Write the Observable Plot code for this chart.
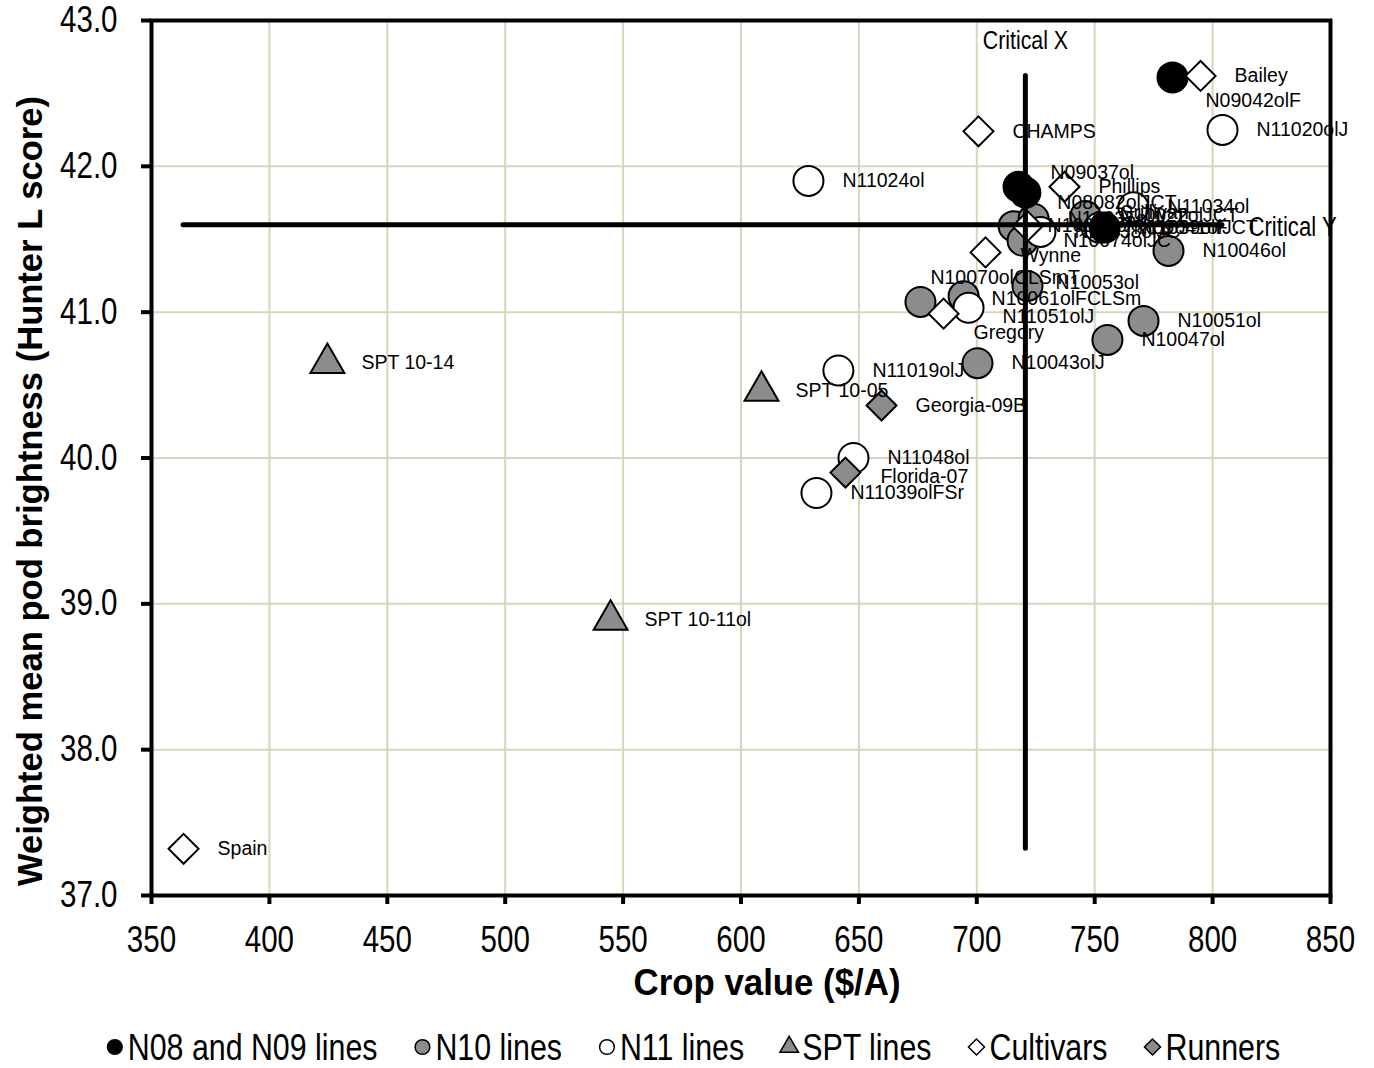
<!DOCTYPE html>
<html>
<head>
<meta charset="utf-8">
<script src="https://cdn.jsdelivr.net/npm/d3@7"></script>
<script src="https://cdn.jsdelivr.net/npm/@observablehq/plot@0.6"></script>
<style>
  html, body { margin: 0; padding: 0; background: #fff; }
  body { width: 1374px; font-family: 'Liberation Sans', Arial, sans-serif; }
  #chart svg, #legend svg { display: block; }
</style>
</head>
<body>
<div id="chart"></div>
<div id="legend"></div>
<script>
// ---- data ----
const groupNames = ["N08 and N09 lines", "N10 lines", "N11 lines", "SPT lines", "Cultivars", "Runners"];

const names = [
  "N09042olF", "N09037ol", "N08082olJCT", "N09041olJCT",
  "N10046ol", "N10051ol", "N10047ol", "N10043olJ", "N10053ol", "N10070olCLSmT", "N10061olFCLSm", "N10038ol", "N10035olJCT", "N10074olJC", "N10022olJCT",
  "N11020olJ", "N11024ol", "N11019olJ", "N11048ol", "N11039olFSr", "N11051olJ", "N11034ol", "N11038olJC", "N11039olF",
  "SPT 10-14", "SPT 10-05", "SPT 10-11ol",
  "Bailey", "CHAMPS", "Phillips", "Wynne", "Gregory", "Spain", "Sullivan",
  "Georgia-09B", "Florida-07"
];
const groups = [
  0, 0, 0, 0,
  1, 1, 1, 1, 1, 1, 1, 1, 1, 1, 1,
  2, 2, 2, 2, 2, 2, 2, 2, 2,
  3, 3, 3,
  4, 4, 4, 4, 4, 4, 4,
  5, 5
];
const cropValue = [
  783.0, 717.7, 720.6, 754.2,
  781.3, 770.7, 755.4, 700.3, 721.5, 676.1, 694.4, 715.6, 724.1, 719.4, 746.1,
  804.2, 628.6, 641.3, 647.7, 632.0, 696.5, 766.4, 727.0, 752.0,
  424.6, 608.7, 544.7,
  794.9, 700.7, 737.2, 703.7, 685.9, 363.6, 721.5,
  659.6, 644.3
];
const brightness = [
  42.61, 41.86, 41.82, 41.58,
  41.42, 40.94, 40.81, 40.65, 41.18, 41.07, 41.11, 41.59, 41.64, 41.49, 41.66,
  42.25, 41.90, 40.60, 40.00, 39.76, 41.03, 41.72, 41.55, 41.58,
  40.65, 40.46, 38.89,
  42.62, 42.24, 41.86, 41.41, 40.99, 37.32, 41.59,
  40.36, 39.90
];
const xTicks = [350, 400, 450, 500, 550, 600, 650, 700, 750, 800, 850];
const yTicks = [37, 38, 39, 40, 41, 42, 43];
const criticalX = 720.6;
const criticalY = 41.6;
const xTitle = "Crop value ($/A)";
const yTitle = "Weighted mean pod brightness (Hunter L score)";

// ---- styling ----
const FONT = "'Liberation Sans', Arial, sans-serif";
const NARROW = 0.82; // Arial Narrow look
const gridColor = "#d9d4bb";
const styleOf = [
  {symbol: "circle", fill: "#000000", r: 15},
  {symbol: "circle", fill: "#8c8c8c", r: 15},
  {symbol: "circle", fill: "#ffffff", r: 15},
  {symbol: "triangle", fill: "#8c8c8c", r: 12.6},
  {symbol: "diamond2", fill: "#ffffff", r: 13.5},
  {symbol: "diamond2", fill: "#8c8c8c", r: 13.5}
];
// label nudges (pixels) where the labels were moved off their default spot
const nudge = {
  "N09042olF": [33, 23], "N09037ol": [32, -14], "N08082olJCT": [32, 10],
  "N10070olCLSmT": [10, -24], "N10053ol": [28, -3], "N10061olFCLSm": [28, 3],
  "N11051olJ": [34, 9], "Gregory": [30, 19], "Wynne": [35, 3], "Florida-07": [35, 4],
  "Sullivan": [93, -13], "N10074olJC": [41, 0]
};

const rows = names.map((n, i) => ({name: n, group: groups[i], x: cropValue[i], y: brightness[i]}));
const drawOrder = [1, 2, 0, 3, 4, 5];

const xExt = d3.extent(cropValue);
const yExt = d3.extent(brightness);

const dotMarks = drawOrder.map(g => Plot.dot(rows.filter(d => d.group === g), {
  x: "x", y: "y", symbol: () => styleOf[g].symbol, r: styleOf[g].r,
  fill: styleOf[g].fill, stroke: "#000", strokeWidth: 2
}));
const labelMarks = rows.map(d => {
  const [dx, dy] = nudge[d.name] || [34, 0];
  return Plot.text([d], {x: "x", y: "y", text: "name", dx, dy, textAnchor: "start", fontSize: 19.5, fill: "#000"});
});

const chart = Plot.plot({
  width: 1374,
  height: 1018,
  marginTop: 20,
  marginBottom: 123,
  marginLeft: 151,
  marginRight: 44,
  style: {fontFamily: FONT, color: "#000", background: "#fff"},
  x: {domain: [350, 850], nice: false},
  y: {domain: [37, 43], nice: false},
  symbol: {type: "identity"},
  marks: [
    Plot.gridX(xTicks, {stroke: gridColor, strokeOpacity: 1, strokeWidth: 2}),
    Plot.gridY(yTicks, {stroke: gridColor, strokeOpacity: 1, strokeWidth: 2}),
    Plot.axisX(xTicks, {tickSize: 9, strokeWidth: 4, tickPadding: 22, fontSize: 36, label: null, tickFormat: d => String(d)}),
    Plot.axisY(yTicks, {tickSize: 10, strokeWidth: 4, tickPadding: 24, fontSize: 36, label: null, tickFormat: d3.format(".1f")}),
    ...dotMarks,
    ...labelMarks,
    Plot.ruleX([criticalX], {y1: yExt[0], y2: yExt[1], stroke: "#000", strokeWidth: 5, strokeLinecap: "round"}),
    Plot.ruleY([criticalY], {x1: xExt[0], x2: xExt[1], stroke: "#000", strokeWidth: 5, strokeLinecap: "round"}),
    Plot.text([criticalX], {x: d => d, frameAnchor: "top", dy: 10, text: () => "Critical X", fontSize: 26, fill: "#000"}),
    Plot.text([criticalY], {x: () => xExt[1], y: d => d, dx: 26, dy: 3, text: () => "Critical Y", textAnchor: "start", fontSize: 27, fill: "#000"}),
    Plot.text([xTitle], {frameAnchor: "bottom", dy: 99, dx: 26, text: d => d, textAnchor: "middle", fontSize: 37, fontWeight: "bold", fill: "#000"}),
    Plot.text([yTitle], {frameAnchor: "left", dx: -121, dy: 33, rotate: -90, text: d => d, textAnchor: "middle", lineAnchor: "middle", fontSize: 35, fontWeight: "bold", fill: "#000"}),
    Plot.frame({stroke: "#000", strokeWidth: 4})
  ]
});
document.getElementById("chart").appendChild(chart);

// narrow-font look for axis texts and titles
const tickStrings = new Set([...xTicks.map(String), ...yTicks.map(d3.format(".1f"))]);
const fixedLen = {[xTitle]: 267, [yTitle]: 790};
function squeeze(el, factor) {
  const w = el.getComputedTextLength();
  el.setAttribute("textLength", w * factor);
  el.setAttribute("lengthAdjust", "spacingAndGlyphs");
}
chart.querySelectorAll("text").forEach(el => {
  const t = el.textContent;
  if (fixedLen[t]) { el.setAttribute("textLength", fixedLen[t]); el.setAttribute("lengthAdjust", "spacingAndGlyphs"); }
  else if (tickStrings.has(t) || t === "Critical X" || t === "Critical Y") squeeze(el, NARROW);
});

// ---- legend ----
const lsvg = d3.select("#legend").append("svg").attr("width", 1374).attr("height", 50)
  .style("font-family", FONT);
const lg = lsvg.append("g");
let cx = 0;
const GAP = 36;
groupNames.forEach((name, g) => {
  const s = styleOf[g];
  const sym = s.symbol === "circle" ? d3.symbolCircle : s.symbol === "triangle" ? d3.symbolTriangle : d3.symbolDiamond2;
  const size = s.symbol === "circle" ? 170 : s.symbol === "triangle" ? 150 : 165;
  lg.append("path").attr("d", d3.symbol(sym, size)()).attr("transform", `translate(${cx + 9},29)`)
    .attr("fill", s.fill).attr("stroke", "#000").attr("stroke-width", 1.5);
  const t = lg.append("text").attr("x", cx + 22).attr("y", 29).attr("dy", "0.36em")
    .attr("font-size", 37).attr("fill", "#000").text(name);
  const el = t.node();
  const w = el.getComputedTextLength() * NARROW;
  el.setAttribute("textLength", w);
  el.setAttribute("lengthAdjust", "spacingAndGlyphs");
  cx += 22 + w + GAP;
});
const total = cx - GAP;
lg.attr("transform", `translate(${693 - total / 2},0)`);
</script>
</body>
</html>
